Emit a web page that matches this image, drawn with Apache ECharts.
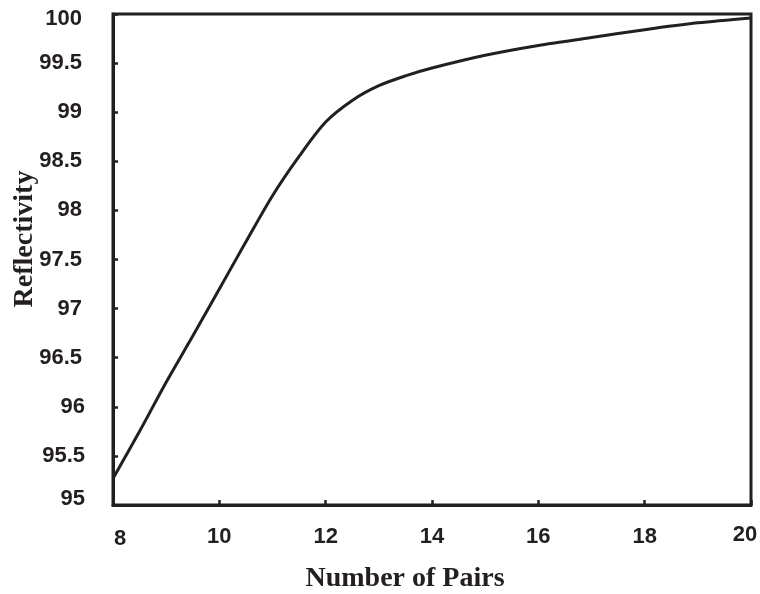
<!DOCTYPE html>
<html>
<head>
<meta charset="utf-8">
<script src="https://cdn.jsdelivr.net/npm/echarts@6/dist/echarts.min.js"></script>
<style>html,body{margin:0;padding:0;background:#fff;}#c{width:760px;height:594px;}</style>
</head>
<body>
<div id="c"></div>
<script>
var pairs = [8, 8.5, 9, 9.5, 10, 10.5, 11, 11.5, 12, 12.5, 13, 13.5, 14, 15, 16, 17, 18, 19, 20];
var reflectivity = [95.27, 95.75, 96.25, 96.72, 97.2, 97.68, 98.15, 98.55, 98.9, 99.12, 99.27, 99.37, 99.45, 99.58, 99.68, 99.76, 99.84, 99.91, 99.96];
var xTitle = 'Number of Pairs';
var yTitle = 'Reflectivity';

var ink = '#231f20';
var labelFont = {color: ink, fontFamily: 'Liberation Sans, Arial, sans-serif', fontWeight: 'bold', fontSize: 22};
var chart = echarts.init(document.getElementById('c'), null, {renderer: 'canvas'});
chart.setOption({
  backgroundColor: '#fff',
  animation: false,
  grid: {left: 113, right: 9, top: 14, bottom: 89, show: true, borderColor: ink, borderWidth: 3, outerBoundsMode: 'none'},
  xAxis: {
    type: 'value', min: 8, max: 20, interval: 2,
    axisLine: {show: true, lineStyle: {color: ink, width: 3}},
    axisTick: {show: true, inside: true, length: 5, lineStyle: {color: ink, width: 2.5}},
    splitLine: {show: false},
    axisLabel: Object.assign({
      show: true, showMinLabel: true, showMaxLabel: true, margin: 19,
      formatter: function (v) {
        if (v === 8) return '{lo|' + v + '}';
        if (v === 20) return '{hi|' + v + '}';
        return '{n|' + v + '}';
      },
      rich: {
        lo: Object.assign({padding: [4, 0, 0, 14]}, labelFont),
        hi: Object.assign({padding: [0, 12, 0, 0]}, labelFont),
        n: Object.assign({padding: [2, 0, 0, 0]}, labelFont)
      }
    }, labelFont)
  },
  yAxis: {
    type: 'value', min: 95, max: 100, interval: 0.5,
    axisLine: {show: true, lineStyle: {color: ink, width: 3}},
    axisTick: {show: true, inside: true, length: 5, lineStyle: {color: ink, width: 2.5}},
    splitLine: {show: false},
    axisLabel: Object.assign({
      show: true, showMinLabel: true, showMaxLabel: true, margin: 28,
      formatter: function (v) {
        if (v === 100) return '{top|' + v + '}';
        if (v === 95) return '{bot|' + v + '}';
        if (v <= 96) return '{low|' + v + '}';
        return '{n|' + v + '}';
      },
      rich: {
        top: Object.assign({padding: [10, 3, 0, 0]}, labelFont),
        bot: Object.assign({padding: [0, 0, 12, 0]}, labelFont),
        low: Object.assign({padding: [0, 0, 0, 0]}, labelFont),
        n: Object.assign({padding: [0, 3, 0, 0]}, labelFont)
      }
    }, labelFont)
  },
  graphic: [
    {type: 'text', x: 25, y: 239, rotation: Math.PI / 2,
     style: {text: yTitle, fill: ink, font: 'bold 28px "Liberation Serif", "Times New Roman", serif', textAlign: 'center', textVerticalAlign: 'middle'}},
    {type: 'text', x: 405, y: 579,
     style: {text: xTitle, fill: ink, font: 'bold 28px "Liberation Serif", "Times New Roman", serif', textAlign: 'center', textVerticalAlign: 'middle'}}
  ],
  series: [{
    type: 'line',
    data: pairs.map(function (p, i) { return [p, reflectivity[i]]; }),
    smooth: 0.3,
    showSymbol: false,
    lineStyle: {color: ink, width: 3},
    clip: false
  }]
});
</script>
</body>
</html>
